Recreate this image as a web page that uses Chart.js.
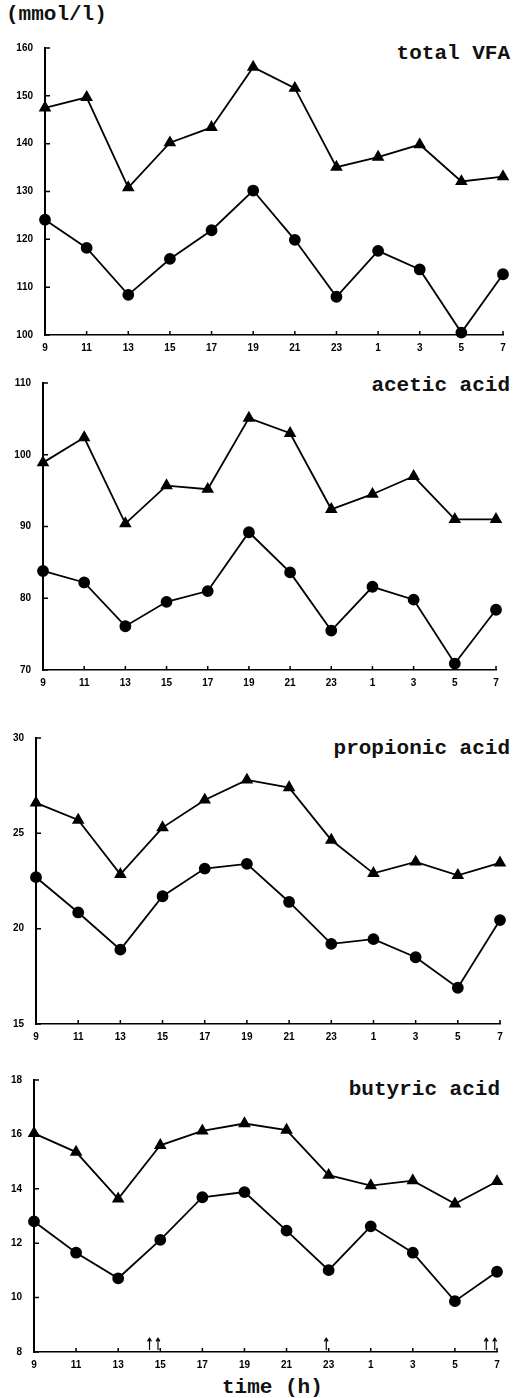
<!DOCTYPE html>
<html>
<head>
<meta charset="utf-8">
<script src="https://cdn.jsdelivr.net/npm/chart.js@4"></script>
<style>
  body { margin: 0; background: #fff; width: 529px; height: 1398px; position: relative; overflow: hidden; }
  .panel { position: absolute; left: 0; width: 529px; }
  .lbl { position: absolute; font: bold 21px "Liberation Mono", "Courier New", monospace; color: #111; white-space: nowrap; line-height: 1; }
</style>
</head>
<body>
<div class="lbl" style="left:6px; top:4px;">(mmol/l)</div>
<div class="lbl" style="right:19px; top:43px;">total VFA</div>
<div class="lbl" style="right:19px; top:375px;">acetic acid</div>
<div class="lbl" style="right:19px; top:738px;">propionic acid</div>
<div class="lbl" style="right:29px; top:1079px;">butyric acid</div>
<div class="lbl" style="left:222px; top:1377px;">time (h)</div>

<script>
// ── Data ──────────────────────────────────────────────────────
const hours = ['9', '11', '13', '15', '17', '19', '21', '23', '1', '3', '5', '7'];

const vfaTri    = [147.5, 149.7, 130.8, 140.2, 143.4, 156.0, 151.6, 135.1, 137.2, 139.8, 132.1, 133.1];
const vfaDot    = [124.1, 118.2, 108.4, 115.9, 121.9, 130.2, 119.9, 108.0, 117.6, 113.7, 100.5, 112.7];
const aceticTri = [98.9, 102.4, 90.4, 95.7, 95.2, 105.1, 103.0, 92.4, 94.5, 97.0, 91.0, 91.0];
const aceticDot = [83.8, 82.2, 76.1, 79.5, 81.0, 89.2, 83.6, 75.5, 81.6, 79.8, 70.9, 78.4];
const propTri   = [26.6, 25.7, 22.85, 25.3, 26.75, 27.8, 27.4, 24.65, 22.9, 23.5, 22.8, 23.45];
const propDot   = [22.7, 20.85, 18.9, 21.7, 23.15, 23.4, 21.4, 19.2, 19.45, 18.5, 16.9, 20.45];
const butTri    = [16.04, 15.35, 13.63, 15.6, 16.13, 16.4, 16.16, 14.5, 14.12, 14.3, 13.45, 14.27];
const butDot    = [12.8, 11.65, 10.71, 12.12, 13.69, 13.88, 12.46, 11.01, 12.62, 11.65, 9.87, 10.95];

// feeding marks on the butyric panel
const feedHours  = ['15', '23', '7'];
const feedArrows = ['↑↑', '↑', '↑↑'];

// ── Inward tick marks + arrows ────────────────────────────────
const inwardTicks = {
  id: 'inwardTicks',
  afterDraw(chart, args, opts) {
    const { ctx, chartArea: a, scales: { x, y } } = chart;
    ctx.save();
    ctx.strokeStyle = '#000';
    ctx.lineWidth = 1.5;
    ctx.beginPath();
    x.ticks.forEach((t, i) => {
      const px = x.getPixelForTick(i);
      ctx.moveTo(px, a.bottom);
      ctx.lineTo(px, a.bottom - 4);
    });
    y.ticks.forEach((t, i) => {
      const py = y.getPixelForTick(i);
      ctx.moveTo(a.left, py);
      ctx.lineTo(a.left + 5, py);
    });
    ctx.stroke();
    if (opts.hours) {
      ctx.fillStyle = '#000';
      ctx.font = 'bold 17px "DejaVu Sans"';
      ctx.textAlign = 'right';
      ctx.textBaseline = 'bottom';
      opts.hours.forEach((h, i) => {
        const px = x.getPixelForValue(hours.indexOf(h));
        ctx.save();
        ctx.translate(px + 2, a.bottom + 2);
        ctx.scale(0.6, 1);
        ctx.fillText(opts.arrows[i], 0, 0);
        ctx.restore();
      });
    }
    ctx.restore();
  }
};

// ── Panel builder ─────────────────────────────────────────────
function makePanel(p) {
  const div = document.createElement('div');
  div.className = 'panel';
  div.style.top = p.top + 'px';
  div.style.height = p.height + 'px';
  const canvas = document.createElement('canvas');
  canvas.width = 529;
  canvas.height = p.height;
  div.appendChild(canvas);
  document.body.appendChild(div);

  const tickFont = { family: '"Liberation Sans", Arial, sans-serif', size: 10, weight: 'bold' };

  new Chart(canvas.getContext('2d'), {
    type: 'line',
    data: {
      labels: hours,
      datasets: [
        {
          data: p.tri,
          borderColor: '#000',
          borderWidth: 1.8,
          pointStyle: 'triangle',
          pointRadius: 5.5,
          pointBackgroundColor: '#000',
          pointBorderColor: '#000',
          tension: 0,
          clip: false
        },
        {
          data: p.dot,
          borderColor: '#000',
          borderWidth: 1.8,
          pointStyle: 'circle',
          pointRadius: 5,
          pointBackgroundColor: '#000',
          pointBorderColor: '#000',
          tension: 0,
          clip: false
        }
      ]
    },
    options: {
      responsive: false,
      animation: false,
      layout: { padding: { top: p.padTop, right: p.padRight, bottom: p.padBottom, left: 0 } },
      plugins: {
        legend: { display: false },
        tooltip: { enabled: false },
        inwardTicks: { hours: p.feedHours, arrows: p.feedArrows }
      },
      scales: {
        x: {
          type: 'category',
          offset: false,
          grid: { display: false, drawTicks: false },
          border: { display: true, color: '#000', width: 1.5 },
          ticks: { color: '#000', font: tickFont, padding: 7, maxRotation: 0, autoSkip: false },
          afterFit: s => { s.height = 20; }
        },
        y: {
          min: p.min,
          max: p.max,
          grid: { display: false, drawTicks: false },
          border: { display: true, color: '#000', width: 2 },
          ticks: { color: '#000', font: tickFont, stepSize: p.step, padding: 12 },
          afterFit: s => { s.width = p.left; }
        }
      }
    },
    plugins: [inwardTicks]
  });
}

makePanel({ top: 30,  height: 330, padTop: 13, padRight: 26, padBottom: 5,  left: 45,
            min: 100, max: 160, step: 10, tri: vfaTri, dot: vfaDot });
makePanel({ top: 365, height: 330, padTop: 12, padRight: 33, padBottom: 5,  left: 43,
            min: 70, max: 110, step: 10, tri: aceticTri, dot: aceticDot });
makePanel({ top: 720, height: 335, padTop: 13, padRight: 29, padBottom: 11, left: 36,
            min: 15, max: 30, step: 5, tri: propTri, dot: propDot });
makePanel({ top: 1062, height: 312, padTop: 13, padRight: 32, padBottom: 2, left: 34,
            min: 8, max: 18, step: 2, tri: butTri, dot: butDot,
            feedHours: feedHours, feedArrows: feedArrows });
</script>
</body>
</html>
